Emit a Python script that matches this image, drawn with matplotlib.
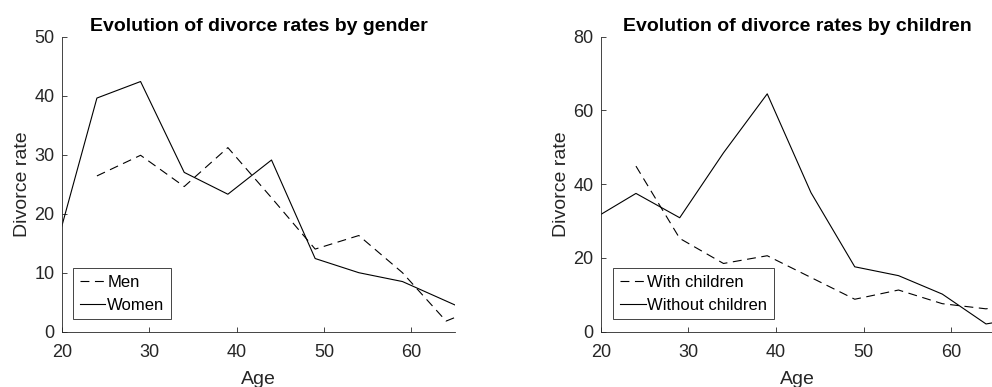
import matplotlib
matplotlib.use("Agg")
import matplotlib.pyplot as plt

# Ages (5-year steps), lines are clipped to the 20-65 window like the original
ages = [19, 24, 29, 34, 39, 44, 49, 54, 59, 64, 69]

men = [None, 26.4, 29.9, 24.6, 31.2, 22.7, 14.0, 16.3, 10.0, 1.8, 4.8]
women = [12.6, 39.6, 42.4, 27.0, 23.3, 29.1, 12.4, 10.0, 8.5, 5.2, 1.9]

with_children = [None, 44.9, 25.3, 18.5, 20.6, 14.7, 8.8, 11.3, 7.6, 6.2, 8.2]
without_children = [30.4, 37.5, 30.9, 48.5, 64.5, 37.7, 17.6, 15.2, 10.2, 2.1, 4.1]

plt.rcParams['font.family'] = ['Liberation Sans', 'DejaVu Sans']
grey = '#262626'


def style_axes(ax, ylim, yticks):
    ax.set_xlim(20, 65)
    ax.set_ylim(*ylim)
    ax.set_xticks([20, 30, 40, 50, 60])
    ax.set_yticks(yticks)
    ax.spines['top'].set_visible(False)
    ax.spines['right'].set_visible(False)
    for s in ['left', 'bottom']:
        ax.spines[s].set_color(grey)
        ax.spines[s].set_linewidth(0.6)
    ax.tick_params(direction='in', length=3.5, width=0.6, color=grey,
                   labelcolor=grey, labelsize=13)
    ax.tick_params(axis='x', pad=9)
    ax.tick_params(axis='y', pad=5.5)
    ax.set_xlabel('Age', fontsize=14, color=grey, labelpad=7)
    ax.set_ylabel('Divorce rate', fontsize=14, color=grey, labelpad=2)


def to_xy(vals):
    xs = [a for a, v in zip(ages, vals) if v is not None]
    ys = [v for v in vals if v is not None]
    return xs, ys


fig = plt.figure(figsize=(9.92, 3.87), dpi=100)

# Left: by gender
ax1 = fig.add_axes([0.0625, 0.1429, 0.396, 0.7623])
x, y = to_xy(men)
ax1.plot(x, y, color='black', lw=0.8, ls=(0, (8, 5)), label='Men')
x, y = to_xy(women)
ax1.plot(x, y, color='black', lw=0.8, label='Women')
style_axes(ax1, (0, 50), [0, 10, 20, 30, 40, 50])
ax1.set_title('Evolution of divorce rates by gender', fontsize=14,
              fontweight='bold', pad=4)

# Right: by children
ax2 = fig.add_axes([0.6058, 0.1429, 0.397, 0.7623])
x, y = to_xy(with_children)
ax2.plot(x, y, color='black', lw=0.8, ls=(0, (8, 5)), label='With children')
x, y = to_xy(without_children)
ax2.plot(x, y, color='black', lw=0.8, label='Without children')
style_axes(ax2, (0, 80), [0, 20, 40, 60, 80])
ax2.set_title('Evolution of divorce rates by children', fontsize=14,
              fontweight='bold', pad=4)

for ax, bx in [(ax1, 0.028), (ax2, 0.031)]:
    leg = ax.legend(loc='lower left', bbox_to_anchor=(bx, 0.042),
                    borderaxespad=0, fontsize=12, handlelength=1.55,
                    handletextpad=0.1, borderpad=0.4, labelspacing=0.45,
                    fancybox=False, framealpha=1)
    leg.get_frame().set_edgecolor(grey)
    leg.get_frame().set_linewidth(0.6)

fig.savefig('out.png', dpi=100)
